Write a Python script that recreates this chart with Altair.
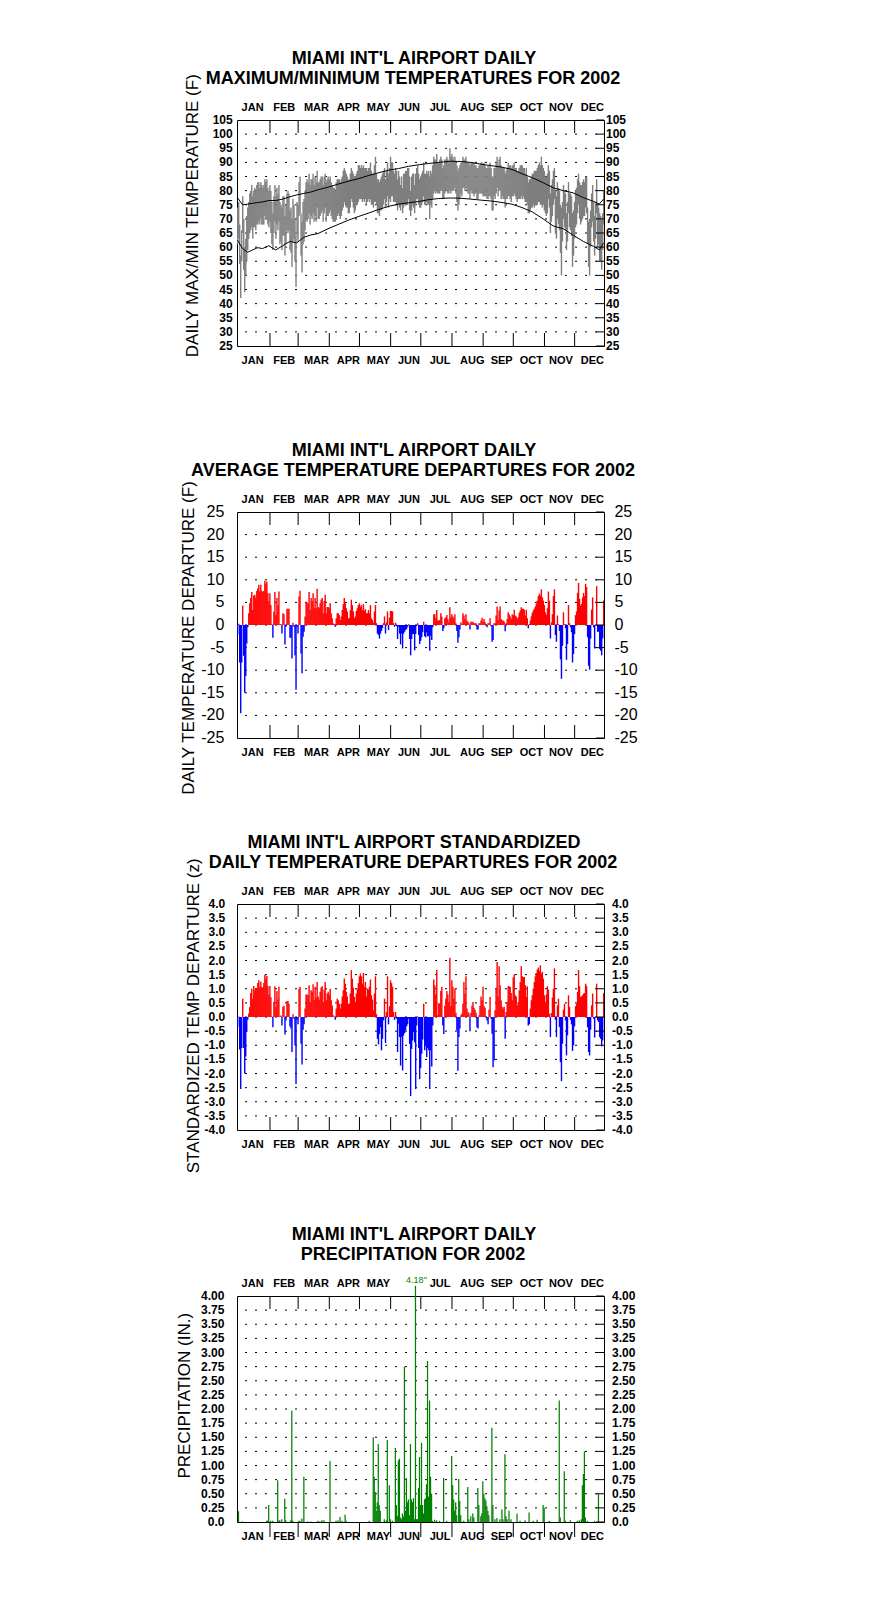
import altair as alt
import pandas as pd

# ---------------------------------------------------------------- data
MONTHS = ["JAN", "FEB", "MAR", "APR", "MAY", "JUN", "JUL", "AUG", "SEP", "OCT", "NOV", "DEC"]
MONTH_START = [0, 31, 59, 90, 120, 151, 181, 212, 243, 273, 304, 334]
MONTH_LEN = [31, 28, 31, 30, 31, 30, 31, 31, 30, 31, 30, 31]

TMAX_BY_MONTH = [
    [74, 76, 68, 57, 66, 78, 70, 60, 63, 71, 74, 76, 79, 80, 82, 78, 80, 81, 80, 82, 83, 83, 81, 83, 82, 81, 82, 84, 83, 84, 81],
    [80, 82, 80, 76, 72, 78, 82, 78, 81, 79, 82, 76, 75, 74, 78, 78, 71, 75, 79, 80, 79, 73, 74, 70, 77, 75, 70, 64],
    [76, 75, 83, 85, 72, 69, 76, 77, 80, 83, 84, 83, 86, 82, 84, 84, 86, 82, 85, 83, 87, 83, 83, 84, 85, 85, 82, 85, 86, 83, 84],
    [85, 84, 85, 83, 82, 81, 81, 80, 83, 84, 84, 84, 83, 84, 85, 87, 88, 87, 86, 85, 84, 84, 86, 88, 87, 86, 85, 85, 86, 87],
    [89, 89, 88, 89, 88, 89, 88, 88, 88, 87, 88, 88, 90, 87, 86, 86, 89, 92, 86, 84, 84, 83, 84, 85, 86, 87, 88, 84, 87, 90, 86],
    [88, 92, 90, 90, 87, 86, 88, 87, 84, 87, 85, 82, 85, 81, 86, 86, 87, 87, 88, 88, 85, 80, 85, 86, 86, 82, 86, 88, 89, 86],
    [84, 85, 86, 87, 90, 86, 86, 87, 86, 87, 85, 87, 86, 89, 92, 91, 91, 93, 90, 90, 91, 92, 91, 88, 89, 91, 91, 92, 91, 90, 95],
    [92, 93, 92, 91, 92, 90, 89, 87, 88, 89, 90, 90, 92, 91, 91, 92, 90, 90, 90, 89, 90, 90, 90, 90, 89, 89, 88, 88, 89, 89, 90],
    [90, 89, 90, 89, 88, 88, 89, 88, 90, 88, 85, 85, 88, 88, 90, 92, 89, 91, 92, 89, 88, 88, 88, 86, 87, 88, 90, 89, 89, 88],
    [89, 89, 90, 88, 88, 87, 87, 88, 89, 89, 89, 88, 88, 86, 88, 85, 83, 84, 84, 85, 86, 86, 87, 87, 87, 88, 89, 90, 89, 92, 89],
    [88, 87, 85, 85, 86, 89, 87, 79, 82, 84, 87, 88, 80, 78, 83, 81, 80, 75, 74, 76, 82, 80, 79, 72, 76, 83, 79, 79, 78, 72],
    [73, 76, 80, 81, 84, 86, 83, 82, 82, 83, 84, 83, 85, 85, 74, 69, 70, 73, 79, 82, 76, 71, 76, 84, 75, 74, 72, 71, 70, 72, 80],
]
TMIN_BY_MONTH = [
    [61, 63, 54, 42, 55, 65, 52, 44, 50, 55, 59, 63, 65, 66, 67, 63, 67, 67, 66, 68, 68, 69, 68, 70, 68, 68, 68, 71, 70, 70, 68],
    [67, 69, 65, 61, 59, 65, 69, 63, 68, 66, 69, 61, 62, 59, 64, 64, 57, 61, 66, 65, 66, 59, 58, 53, 62, 63, 55, 46],
    [64, 62, 71, 72, 57, 51, 61, 62, 66, 70, 69, 70, 72, 68, 71, 70, 72, 69, 71, 69, 74, 70, 70, 71, 72, 73, 69, 72, 74, 69, 71],
    [71, 72, 73, 71, 70, 69, 69, 69, 70, 71, 72, 71, 70, 71, 73, 74, 76, 75, 74, 74, 72, 72, 74, 77, 76, 74, 72, 73, 75, 75],
    [76, 77, 77, 77, 76, 77, 76, 77, 75, 76, 77, 76, 77, 75, 75, 74, 76, 76, 75, 72, 72, 71, 73, 73, 74, 75, 77, 74, 76, 78, 74],
    [77, 76, 78, 78, 76, 76, 76, 75, 73, 75, 74, 73, 75, 72, 74, 75, 75, 75, 75, 77, 73, 71, 73, 75, 74, 72, 75, 77, 77, 75],
    [74, 74, 75, 76, 78, 75, 75, 76, 75, 75, 70, 75, 74, 77, 79, 80, 79, 80, 79, 79, 79, 80, 80, 77, 77, 79, 80, 80, 79, 79, 80],
    [79, 80, 80, 80, 81, 79, 76, 73, 75, 77, 79, 78, 81, 81, 80, 81, 80, 79, 79, 77, 80, 79, 79, 78, 79, 79, 77, 77, 79, 79, 79],
    [79, 78, 78, 78, 78, 77, 77, 78, 78, 77, 73, 73, 78, 77, 79, 81, 78, 80, 80, 77, 78, 77, 77, 74, 77, 77, 78, 78, 77, 76],
    [78, 78, 79, 78, 77, 76, 77, 77, 77, 78, 77, 78, 77, 76, 76, 75, 72, 72, 73, 74, 74, 75, 74, 75, 75, 75, 76, 76, 75, 75, 74],
    [75, 73, 72, 71, 72, 77, 74, 65, 69, 71, 75, 77, 65, 63, 70, 68, 66, 58, 50, 62, 70, 67, 66, 59, 62, 72, 67, 66, 64, 53],
    [57, 63, 67, 68, 72, 75, 70, 68, 69, 70, 71, 71, 74, 72, 61, 53, 50, 60, 67, 69, 62, 57, 63, 72, 60, 61, 55, 55, 52, 59, 68],
]

NORM_DAY = [0, 5, 10, 15, 20, 25, 31, 38, 45, 52, 59, 66, 73, 80, 90, 100, 110, 120, 130, 140, 151, 160, 170,
            181, 190, 200, 212, 222, 232, 243, 253, 263, 273, 283, 293, 304, 314, 324, 334, 344, 354, 360, 364]
NORM_MAX = [77.5, 75.0, 75.2, 75.5, 75.8, 76.0, 76.5, 76.5, 77.0, 77.8, 78.5, 79.0, 79.5, 80.3, 81.2, 82.3, 83.3,
            84.2, 85.3, 86.3, 87.3, 87.8, 88.6, 89.2, 89.6, 90.0, 90.4, 90.3, 90.0, 89.3, 88.8, 88.3, 87.5, 86.0,
            84.6, 82.8, 81.0, 80.0, 79.2, 77.5, 76.2, 75.3, 77.0]
NORM_MIN = [62.5, 59.5, 58.2, 59.0, 59.8, 59.5, 60.5, 59.0, 60.5, 62.0, 61.5, 63.5, 64.3, 64.8, 66.5, 68.0, 69.5,
            70.8, 72.0, 73.3, 74.5, 75.2, 75.7, 76.2, 76.8, 77.2, 77.4, 77.3, 77.0, 76.6, 76.3, 75.8, 75.2, 74.0,
            72.5, 70.0, 67.5, 66.5, 64.2, 62.0, 60.3, 59.0, 61.5]

DEP_BY_MONTH = [
    [-2.1, 0.3, -8.3, -19.5, -8.3, 4.3, -6.8, -15, -11.3, -4.1, -0.5, 2.6, 4.8, 6.0, 7.3, 3.3, 6.5, 6.7, 6.0, 7.5, 8.1, 8.9, 7.4, 8.9, 7.6, 7.3, 7.6, 9.8, 9.1, 9.6, 7.0],
    [5.2, 7.0, 4.4, 0.3, -2.8, 3.0, 7.3, 2.2, 6.0, 4.3, 7.4, 0.2, 0.2, -1.9, 2.6, 2.4, -4.3, -0.4, 3.6, 3.6, 3.6, -2.8, -2.8, -7.4, 0.5, -0.4, -6.7, -14.3],
    [-0.4, -1.9, 6.3, 7.6, -6.3, -10.7, -2.6, -1.5, 1.9, 5, 5, 4.8, 7.3, 3.3, 6, 5.3, 7, 3.7, 6, 3.7, 8, 4, 3.8, 4.8, 5.6, 6, 2.6, 5.3, 6.7, 2.6, 4],
    [4, 3.7, 4.8, 2.6, 1.5, 0.4, 0.2, -0.4, 1.5, 2.6, 2.6, 2.2, 1.1, 1.9, 3.3, 4.6, 6, 4.8, 3.7, 3, 1.5, 1.5, 3.3, 5.6, 4.4, 3, 1.5, 1.9, 3.1, 3.7],
    [4.4, 4.8, 4, 4.4, 3.3, 4.6, 3.1, 3.5, 2.6, 2.6, 3.3, 2.6, 4.4, 1.5, 1.1, 0.5, 3.0, 4.4, 0.4, -1.9, -2.2, -3.0, -1.9, -1.3, -0.7, 0.4, 1.9, -1.9, 0.6, 3.0, -1.1],
    [1.6, 3.1, 3.1, 3.0, 0.4, -0.4, 0.5, -0.2, -3.1, -0.4, -1.9, -4.3, -1.9, -5.2, -1.9, -1.5, -1.1, -0.9, -0.4, 0.2, -3.1, -6.7, -3.1, -2.0, -2.0, -5.6, -2.0, -0.2, 0.4, -2.2],
    [-4.2, -3.5, -2.7, -1.6, 0.7, -2.5, -2.7, -1.6, -2.5, -2.5, -5.7, -2.4, -3.3, -0.5, 2.4, 2.4, 1.5, 3.3, 1.0, 1.0, 1.1, 2.6, 1.9, -1.3, -0.7, 1.5, 1.7, 2.2, 1.3, 0.6, 3.9],
    [1.7, 2.4, 1.9, 1.5, 2.4, 0.4, -1.3, -3.9, -2.7, -1.0, 0.6, 0.2, 2.6, 2.1, 1.3, 2.4, 1.0, 0.7, 0.4, -1.0, 0.8, 0.6, 0.7, 0.4, 0.4, 0.4, -1.0, -1.0, 0.4, 0.4, 1.0],
    [1.6, 0.7, 1.3, 0.6, 0.2, -0.5, 0.4, 0.4, 1.5, -0.3, -3.7, -3.3, 0.4, 0.4, 2.1, 4.1, 1.1, 3.2, 4.1, 1.3, 1.0, 1.0, 0.8, -1.4, 0.4, 1.3, 2.8, 2.4, 1.9, 1.3],
    [2.4, 2.1, 3.4, 2.1, 1.9, 1.3, 1.7, 2.7, 3.2, 3.9, 3.6, 3.6, 3.4, 2.1, 3.4, 1.5, -0.7, 0.2, 1.0, 1.9, 2.7, 3.2, 3.6, 4.1, 4.7, 5.4, 6.4, 6.9, 6.5, 7.9, 6.1],
    [5.4, 4.4, 2.8, 2.2, 3.7, 7.4, 5.4, -3.0, 0.6, 2.4, 6.4, 7.9, -2.2, -3.7, 2.1, 0.2, -1.3, -7.6, -11.9, -4.6, 2.8, 0.2, -0.7, -7.7, -4.2, 4.4, 0.4, -0.5, -1.6, -8.3],
    [-6.4, -2.0, 2.2, 3.0, 7.1, 9.3, 5.8, 4.3, 4.7, 6.1, 7.1, 6.4, 9.1, 8.4, -2.7, -9.0, -9.9, -3.0, 3.4, 6.1, -0.5, -5.2, 0.0, 8.6, -1.5, -1.5, -5.3, -5.7, -6.7, -3.0, 5.4],
]

ZDEP_BY_MONTH = [
    [-0.35, 0.02, -1.15, -2.55, -1.1, 0.65, -1.1, -2.0, -1.4, -0.53, -0.1, 0.12, 0.35, 0.85, 1.0, 0.65, 1.1, 0.95, 1.0, 1.0, 1.2, 1.3, 1.05, 1.25, 1.05, 1.05, 1.2, 1.5, 1.36, 1.45, 1.1],
    [0.8, 1.1, 0.7, 0.03, -0.36, 0.53, 1.09, 0.35, 0.92, 0.62, 1.07, 0.02, 0.05, -0.3, 0.35, 0.4, -0.62, -0.12, 0.57, 0.57, 0.47, -0.33, -0.41, -1.24, 0.1, -0.06, -1.0, -2.37],
    [-0.1, -0.26, 1.0, 1.07, -0.95, -1.68, -0.45, -0.26, 0.3, 0.8, 0.8, 0.77, 1.12, 0.53, 0.95, 0.89, 1.16, 0.6, 1.07, 0.69, 1.24, 0.73, 0.62, 0.89, 1.04, 1.09, 0.53, 0.97, 1.24, 0.59, 0.83],
    [0.89, 0.8, 1.0, 0.59, 0.41, 0.06, 0.02, -0.1, 0.3, 0.65, 0.59, 0.47, 0.3, 0.47, 0.73, 0.95, 1.36, 1.18, 0.89, 0.73, 0.47, 0.47, 0.83, 1.66, 1.36, 1.04, 0.71, 0.53, 0.83, 1.0],
    [1.2, 1.44, 1.54, 1.44, 1.18, 1.56, 1.07, 1.24, 0.73, 1.0, 0.97, 1.07, 1.33, 0.77, 0.62, 0.24, 0.83, 1.44, 0.1, -0.77, -0.97, -0.6, -0.36, -1.18, -0.77, -0.12, 0.65, -0.92, 0.18, 1.44, -0.26],
    [0.38, 1.3, 1.2, 1.07, 0.18, -0.1, 0.18, -0.06, -1.24, -0.24, -0.71, -1.72, -0.71, -1.89, -0.65, -0.57, -0.47, -0.33, -0.26, -0.06, -0.95, -2.8, -1.13, -0.83, -0.53, -0.9, -2.55, -0.3, 0.02, -1.1],
    [-2.2, -1.8, -1.3, -0.8, 0.47, -1.18, -1.0, -1.42, -1.1, -1.18, -2.55, -1.18, -1.75, -0.3, 1.33, 1.12, 0.8, 1.66, 0.06, 0.5, 0.47, 0.92, 1.07, -0.3, -0.6, 0.4, 0.65, 0.92, 0.8, 0.53, 2.1],
    [0.38, 1.3, 1.07, 0.65, 1.0, 0.15, -0.47, -1.9, -0.71, -0.41, 0.06, 0.12, 0.47, 1.24, 0.83, 1.44, 0.3, 0.18, 0.12, -0.5, 0.15, 0.4, 0.53, 0.33, 0.26, 0.15, -0.36, -0.41, 0.06, 0.4, 0.73],
    [0.59, 1.07, 0.38, 0.33, 0.02, -0.12, -0.26, 0.26, 0.71, -0.06, -0.59, -1.78, -1.54, 0.24, 1.0, 1.95, 0.73, 1.8, 1.12, 0.59, 0.36, 0.3, 0.36, -0.77, 0.18, 0.53, 1.09, 1.09, 1.07, 0.85],
    [0.59, 1.4, 1.51, 0.77, 0.73, 0.41, 0.53, 0.95, 1.24, 1.8, 1.44, 1.42, 1.42, 1.12, 0.71, 1.09, -0.3, -0.26, 0.3, 0.59, 0.77, 1.0, 1.24, 1.44, 1.56, 1.68, 1.75, 1.63, 1.83, 1.54, 1.6],
    [1.36, 0.77, 0.47, 0.8, 1.09, 0.97, 0.12, -0.71, 0.14, 0.69, 1.0, 1.72, -0.1, -0.71, 0.41, 0.65, -0.35, -1.6, -2.27, -0.95, 0.26, 0.47, -0.12, -1.36, -0.65, 0.77, 0.36, -0.1, -0.26, -1.2],
    [-1.0, -0.33, 0.38, 0.47, 0.89, 1.66, 1.09, 0.71, 0.73, 0.77, 0.83, 0.85, 1.18, 1.09, -0.36, -1.24, -1.36, -0.45, 0.41, 0.83, -0.06, -0.73, 0.02, 1.18, -0.12, -0.18, -0.71, -0.77, -1.04, -0.83, 0.85],
]

RAIN_DAY = [1, 5, 29, 30, 31, 33, 35, 40, 41, 42, 44, 47, 48, 53, 54, 55, 61, 62, 64, 66, 70, 73, 80, 82, 84, 86,
            92, 98, 100, 102, 104, 107, 108, 131, 135, 136, 137, 138, 139, 140, 141, 142, 146, 148, 149, 151,
            152, 154, 157, 158, 159, 160, 161, 162, 163, 164, 165, 166, 167, 168, 169, 170, 171, 172, 173, 174,
            175, 176, 177, 178, 179, 180, 181, 182, 183, 184, 185, 186, 187, 188, 189, 190, 191, 192, 193, 194,
            196, 198, 201, 205, 208, 213, 214, 215, 216, 217, 218, 220, 221, 222, 225, 229, 230, 232, 234, 235,
            239, 240, 242, 243, 244, 245, 246, 247, 248, 249, 250, 253, 254, 256, 258, 261, 263, 264, 266, 267,
            268, 270, 272, 278, 281, 286, 290, 294, 298, 304, 305, 310, 320, 321, 325, 326, 331, 338, 340, 342,
            343, 344, 345, 346, 348, 355, 359]
RAIN_IN = [0.19, 0.01, 0.02, 0.02, 0.30, 0.02, 0.02, 0.74, 0.02, 0.03, 0.05, 0.41, 0.03, 0.03, 1.97, 0.02, 0.02,
           0.02, 0.06, 0.80, 0.01, 0.01, 0.02, 0.01, 0.03, 0.03, 1.08, 0.02, 0.03, 0.09, 0.02, 0.13, 0.02, 0.02,
           1.50, 0.80, 0.53, 0.20, 0.35, 1.38, 0.30, 0.20, 0.05, 0.03, 1.45, 0.65, 0.05, 0.02, 1.31, 0.30, 0.10,
           1.09, 1.12, 0.08, 0.05, 0.15, 0.10, 2.75, 0.20, 0.78, 0.35, 0.40, 0.12, 1.38, 0.40, 0.35, 0.42, 0.05,
           4.18, 0.05, 0.05, 0.60, 1.15, 0.30, 1.40, 0.30, 0.15, 0.40, 0.42, 0.67, 2.85, 0.45, 2.15, 0.80, 0.50,
           0.02, 0.04, 0.03, 0.02, 0.78, 0.02, 1.17, 0.65, 0.40, 0.20, 0.35, 0.12, 0.76, 0.37, 0.12, 0.02, 0.62,
           0.05, 0.10, 0.15, 0.08, 0.60, 0.30, 0.10, 0.15, 0.72, 0.50, 0.42, 0.38, 0.28, 0.20, 0.12, 1.67, 0.30,
           0.05, 0.07, 0.05, 0.22, 0.05, 1.20, 0.10, 0.05, 0.20, 0.05, 0.15, 0.02, 0.03, 0.17, 0.02, 0.04, 0.30,
           0.25, 0.02, 2.15, 0.08, 0.90, 0.02, 0.03, 0.02, 0.03, 0.05, 0.65, 0.85, 1.25, 0.08, 0.02, 0.02, 0.50]

P1_TICKS = [25, 30, 35, 40, 45, 50, 55, 60, 65, 70, 75, 80, 85, 90, 95, 100, 105]
P2_TICKS = [-25, -20, -15, -10, -5, 0, 5, 10, 15, 20, 25]
P3_TICKS = [-4.0, -3.5, -3.0, -2.5, -2.0, -1.5, -1.0, -0.5, 0.0, 0.5, 1.0, 1.5, 2.0, 2.5, 3.0, 3.5, 4.0]
P3_LABELS = ["-4.0", "-3.5", "-3.0", "-2.5", "-2.0", "-1.5", "-1.0", "-0.5", "0.0", "0.5", "1.0", "1.5",
             "2.0", "2.5", "3.0", "3.5", "4.0"]
P4_TICKS = [0.0, 0.25, 0.5, 0.75, 1.0, 1.25, 1.5, 1.75, 2.0, 2.25, 2.5, 2.75, 3.0, 3.25, 3.5, 3.75, 4.0]
P4_LABELS = ["0.0", "0.25", "0.50", "0.75", "1.00", "1.25", "1.50", "1.75", "2.00", "2.25", "2.50", "2.75",
             "3.00", "3.25", "3.50", "3.75", "4.00"]

TMAX = sum(TMAX_BY_MONTH, [])
TMIN = sum(TMIN_BY_MONTH, [])
DEP = sum(DEP_BY_MONTH, [])
ZDEP = sum(ZDEP_BY_MONTH, [])
assert len(TMAX) == 365 and len(TMIN) == 365 and len(DEP) == 365 and len(ZDEP) == 365
assert len(RAIN_DAY) == len(RAIN_IN)
assert len(NORM_DAY) == len(NORM_MAX) == len(NORM_MIN)

# ---------------------------------------------------------------- style
W, H = 367, 226
SPACING = 166
FONT = "Liberation Sans"
TICK_SHIFT = 1.8
BAR_W = 1.4
LABEL_SHIFT = [0, 2, 4.5, 5.7, 5.2, 5, 5.5, 6.5, 5.2, 4.2, 3.2, 4]
GRAY = "#7f7f7f"
RED, BLUE, GREEN = "#ff0000", "#0000ff", "#008000"

XS = alt.Scale(domain=[0, 365], nice=False, zero=False)
DAYS = list(range(365))


def xq(field):
    return alt.X(f"{field}:Q", scale=XS, axis=None)


def yq(field, ys):
    return alt.Y(f"{field}:Q", scale=ys, axis=None)


def frame(ys, ticks, labels, lab_size, lab_weight, lgap, rgap,
          ytitle, ytx, yty, ysize, title1, title2, skip_top=(), bottom_out=False):
    layers = []
    # month boundary ticks
    tick_df = pd.DataFrame({"d": [s + TICK_SHIFT for s in MONTH_START[1:]]})
    layers.append(alt.Chart(tick_df).mark_rule(color="black", strokeWidth=1).encode(
        x=xq("d"), y=alt.value(0), y2=alt.value(13)))
    if bottom_out:
        layers.append(alt.Chart(tick_df).mark_rule(color="black", strokeWidth=1).encode(
            x=xq("d"), y=alt.value(H), y2=alt.value(H + 15)))
    else:
        layers.append(alt.Chart(tick_df).mark_rule(color="black", strokeWidth=1).encode(
            x=xq("d"), y=alt.value(H - 13), y2=alt.value(H)))
    # month labels
    lab_df = pd.DataFrame({
        "m": MONTHS,
        "d": [s + n / 2 + sh for s, n, sh in zip(MONTH_START, MONTH_LEN, LABEL_SHIFT)],
    })
    top_df = lab_df[~lab_df["m"].isin(list(skip_top))]
    mt = dict(font=FONT, fontSize=11, fontWeight="bold", align="center", baseline="alphabetic", color="black")
    layers.append(alt.Chart(top_df).mark_text(**mt).encode(x=xq("d"), y=alt.value(-9), text="m:N"))
    layers.append(alt.Chart(lab_df).mark_text(**mt).encode(x=xq("d"), y=alt.value(H + 18), text="m:N"))
    # value labels and right-side ticks
    vdf = pd.DataFrame({"v": ticks, "lab": labels})
    lt = dict(font=FONT, fontSize=lab_size, fontWeight=lab_weight, baseline="middle", color="black")
    layers.append(alt.Chart(vdf).mark_text(align="right", **lt).encode(
        y=yq("v", ys), x=alt.value(-lgap), text="lab:N"))
    layers.append(alt.Chart(vdf).mark_text(align="left", **lt).encode(
        y=yq("v", ys), x=alt.value(W + rgap), text="lab:N"))
    layers.append(alt.Chart(vdf).mark_rule(color="black", strokeWidth=1).encode(
        y=yq("v", ys), x=alt.value(W - 8), x2=alt.value(W)))
    # axis title
    layers.append(alt.Chart(pd.DataFrame({"t": [ytitle]})).mark_text(
        font=FONT, fontSize=ysize, angle=270, align="center", baseline="middle", color="black").encode(
        x=alt.value(ytx), y=alt.value(yty), text="t:N"))
    # chart titles
    tt = dict(font=FONT, fontSize=18, fontWeight="bold", align="center", baseline="alphabetic", color="black")
    layers.append(alt.Chart(pd.DataFrame({"t": [title1]})).mark_text(**tt).encode(
        x=alt.value(W / 2 - 6.5), y=alt.value(-56), text="t:N"))
    layers.append(alt.Chart(pd.DataFrame({"t": [title2]})).mark_text(**tt).encode(
        x=alt.value(W / 2 - 7.5), y=alt.value(-36), text="t:N"))
    return layers


def grid_layer(ys, grid_vals):
    gdf = pd.DataFrame({"v": grid_vals})
    return alt.Chart(gdf).mark_rule(color="black", strokeWidth=1, strokeDash=[2, 8]).encode(
        y=yq("v", ys), x=alt.value(8), x2=alt.value(W - 7))


# ---------------------------------------------------------------- panel 1
ys1 = alt.Scale(domain=[25, 105], nice=False, zero=False)
t_df = pd.DataFrame({"d": DAYS, "d1": [d + BAR_W for d in DAYS], "lo": TMIN, "hi": TMAX})
n_df = pd.DataFrame({"d": [d + 0.5 for d in NORM_DAY], "nmax": NORM_MAX, "nmin": NORM_MIN})
p1_layers = [
    grid_layer(ys1, P1_TICKS[1:-1]),
    alt.Chart(t_df).mark_bar(color=GRAY, strokeWidth=0, clip=True).encode(
        x=xq("d"), x2="d1:Q", y=yq("lo", ys1), y2="hi:Q"),
    alt.Chart(n_df).mark_line(color="black", strokeWidth=1).encode(x=xq("d"), y=yq("nmax", ys1)),
    alt.Chart(n_df).mark_line(color="black", strokeWidth=1).encode(x=xq("d"), y=yq("nmin", ys1)),
] + frame(ys1, P1_TICKS, [str(v) for v in P1_TICKS], 12, "bold", 4.3, 2,
          "DAILY MAX/MIN TEMPERATURE (F)", -43.6, 95.7, 17,
          "MIAMI INT'L AIRPORT DAILY", "MAXIMUM/MINIMUM TEMPERATURES FOR 2002")
p1 = alt.layer(*p1_layers).properties(width=W, height=H)

# ---------------------------------------------------------------- panel 2
ys2 = alt.Scale(domain=[-25, 25], nice=False, zero=False)
d_df = pd.DataFrame({"d": DAYS, "d1": [d + BAR_W for d in DAYS], "v": DEP, "z": [0.0] * 365,
                     "c": [RED if v >= 0 else BLUE for v in DEP]})
p2_layers = [
    grid_layer(ys2, P2_TICKS[1:-1]),
    alt.Chart(d_df).mark_bar(strokeWidth=0, clip=True).encode(
        x=xq("d"), x2="d1:Q", y=yq("z", ys2), y2="v:Q", color=alt.Color("c:N", scale=None)),
] + frame(ys2, P2_TICKS, [str(v) for v in P2_TICKS], 16, "normal", 12.6, 10.4,
          "DAILY TEMPERATURE DEPARTURE (F)", -47.6, 126, 17,
          "MIAMI INT'L AIRPORT DAILY", "AVERAGE TEMPERATURE DEPARTURES FOR 2002")
p2 = alt.layer(*p2_layers).properties(width=W, height=H)

# ---------------------------------------------------------------- panel 3
ys3 = alt.Scale(domain=[-4, 4], nice=False, zero=False)
z_df = pd.DataFrame({"d": DAYS, "d1": [d + BAR_W for d in DAYS], "v": ZDEP, "z": [0.0] * 365,
                     "c": [RED if v >= 0 else BLUE for v in ZDEP]})
p3_layers = [
    grid_layer(ys3, P3_TICKS[1:-1]),
    alt.Chart(z_df).mark_bar(strokeWidth=0, clip=True).encode(
        x=xq("d"), x2="d1:Q", y=yq("z", ys3), y2="v:Q", color=alt.Color("c:N", scale=None)),
] + frame(ys3, P3_TICKS, P3_LABELS, 12, "bold", 11.7, 8,
          "STANDARDIZED TEMP DEPARTURE (z)", -42.6, 111.8, 17,
          "MIAMI INT'L AIRPORT STANDARDIZED", "DAILY TEMPERATURE DEPARTURES FOR 2002")
p3 = alt.layer(*p3_layers).properties(width=W, height=H)

# ---------------------------------------------------------------- panel 4
ys4 = alt.Scale(domain=[0, 4], nice=False, zero=False)
r_df = pd.DataFrame({"d": [d + 0.5 for d in RAIN_DAY], "v": RAIN_IN, "z": [0.0] * len(RAIN_DAY)})
top_rain = r_df[r_df["v"] > 4.0].assign(lab=lambda f: [f'{v:.2f}"' for v in f["v"]])
p4_layers = [
    grid_layer(ys4, P4_TICKS[1:-1]),
    alt.Chart(r_df).mark_rule(color=GREEN, strokeWidth=1.25).encode(x=xq("d"), y=yq("z", ys4), y2="v:Q"),
    alt.Chart(top_rain).mark_text(font=FONT, fontSize=9, color=GREEN, align="center",
                                  baseline="alphabetic", dx=1).encode(x=xq("d"), y=alt.value(-13), text="lab:N"),
] + frame(ys4, P4_TICKS, P4_LABELS, 12, "bold", 12.6, 8,
          "PRECIPITATION (IN.)", -51.6, 99.7, 17,
          "MIAMI INT'L AIRPORT DAILY", "PRECIPITATION FOR 2002", skip_top=("JUN",), bottom_out=True)
p4 = alt.layer(*p4_layers).properties(width=W, height=H)

chart = alt.vconcat(p1, p2, p3, p4, spacing=SPACING, bounds="flush").properties(
    padding={"left": 167, "top": 41, "right": 20, "bottom": 20},
    background="white",
).configure_view(stroke="black", strokeWidth=1)

chart.save("out.html", embed_options={"renderer": "svg", "actions": False})
